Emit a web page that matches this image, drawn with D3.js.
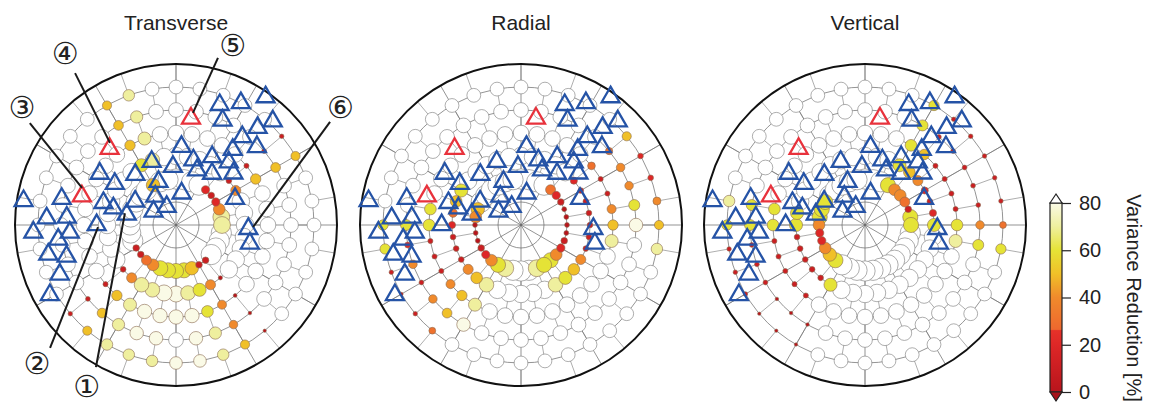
<!DOCTYPE html>
<html>
<head>
<meta charset="utf-8">
<script src="https://cdn.jsdelivr.net/npm/d3@7"></script>
<style>
  body { margin: 0; background: #fff; }
  svg { font-family: "Liberation Sans", Arial, sans-serif; }
</style>
</head>
<body>
<div id="chart"></div>
<script>
// panels
const components = ['Transverse', 'Radial', 'Vertical'];
// grid nodes: azimuth every 10 deg, rings at these distances (outer edge = 7)
const azimuths = d3.range(0, 360, 10);
const ringDist = [2, 3, 4, 5, 6];

// variance reduction per node, one digit per azimuth (0..350), value = digit*10, 9 = above 80
const vrTransverse = [
  '999921 247799 991156 666431 199999 999599',
  '999991 499999 990467 887741 999999 999679',
  '999991 599999 990468 888751 999999 999579',
  '999991 599999 990478 988751 999999 999579',
  '999991 599999 990578 877751 999999 999579'
];
const vrRadial = [
  '999932 100001 246679 997642 100045 999999',
  '999992 111111 456799 999754 111235 699999',
  '999993 114579 999999 999754 111669 999999',
  '999993 446899 999999 999854 142699 999999',
  '999995 224579 999999 999931 016699 999999'
];
const vrVertical = [
  '999644 316699 999999 999965 422466 699999',
  '999654 212699 999999 999611 111669 999999',
  '999651 111679 999999 999911 111669 999999',
  '999611 111469 999999 999000 111669 999999',
  '999611 111369 999999 999000 111679 999999'
];

// stations [azimuth, distance]
const stations = [
  [20,5.56],[28,6.01],[35,6.79],[24,4.98],[43,6.17],[40,5.52],[37,4.79],[46,4.89],
  [4,3.41],[37,4.10],[15,2.92],[28,3.35],[40,3.57],[339,2.95],[357,2.54],[21,2.55],
  [48,3.36],[35,2.73],[321,2.81],[338,2.03],[10,1.40],[304,4.00],[304,3.21],[66,2.81],
  [300,2.05],[324,1.53],[287,3.30],[285,2.82],[282,2.19],[301,1.14],[333,0.89],[270,3.45],
  [93,3.15],[104,3.31],[279,6.71],[283,5.10],[273,5.63],[274,4.76],[267,6.21],[266,4.63],
  [263,5.16],[257,5.70],[254,4.95],[247,5.49],[241,6.27]
];
// highlighted stations [azimuth, distance]
const redStations = [[287,4.28],[319,4.40],[8,4.68]];

// numbered labels: text, label pos, line start, line end (azimuth, distance)
const labels = [
  ['①', [209,8.0], [209.4,7.09], [283,2.28]],
  ['②', [225.2,8.52], [225.7,7.65], [268.5,3.39]],
  ['③', [307.5,8.44], [304.9,7.75], [291.5,4.39]],
  ['④', [327.2,8.9], [326.4,7.93], [321.2,4.58]],
  ['⑤', [17.5,8.2], [14.1,7.49], [8.6,4.93]],
  ['⑥', [54.3,8.8], [56.2,8.06], [91.5,3.35]]
];

const cbTicks = [0, 20, 40, 60, 80];

const vrData = { Transverse: vrTransverse, Radial: vrRadial, Vertical: vrVertical };

const W = 1150, H = 403, cy = 225;

const svg = d3.select('#chart').append('svg')
  .attr('width', W).attr('height', H);

const xPanel = d3.scaleOrdinal().domain(components).range([176, 521, 865]);
const rScale = d3.scaleLinear().domain([0, 7]).range([0, 161]);

// colour for variance reduction
const color = d3.scaleLinear()
  .domain([0, 20, 26, 26.5, 40, 50, 60, 70, 80, 80.5, 100])
  .range(['#b8141c', '#de2727', '#e63229', '#ee682e', '#f08a2c', '#f0c028',
          '#e5e336', '#efef9e', '#fafae6', '#ffffff', '#ffffff'])
  .clamp(true);
// marker size grows with VR and shrinks with distance
const ringBase = d3.scaleLinear().domain([2, 3, 4, 6]).range([11, 9.5, 8.5, 7.5]);
const sizeFrac = d3.scaleLinear().domain([0, 100]).range([0.22, 1]);

function polar(az, d) {
  const a = az * Math.PI / 180, r = rScale(d);
  return [r * Math.sin(a), -r * Math.cos(a)];
}

components.forEach(comp => {
  const g = svg.append('g').attr('transform', `translate(${xPanel(comp)}, ${cy})`);

  // grid rings
  g.selectAll('.ring')
    .data([1].concat(ringDist))
    .enter().append('circle')
    .attr('r', d => rScale(d))
    .attr('fill', 'none')
    .attr('stroke', '#666')
    .attr('stroke-width', 0.7);

  // spokes
  g.selectAll('.spoke')
    .data(d3.range(0, 360, 30))
    .enter().append('line')
    .attr('x1', 0).attr('y1', 0)
    .attr('x2', d => polar(d, 7)[0])
    .attr('y2', d => polar(d, 7)[1])
    .attr('stroke', '#666')
    .attr('stroke-width', 0.7);

  // connectors between rings (honeycomb look)
  const links = [];
  [2, 3, 4, 5, 6].forEach((d, k) => {
    azimuths.forEach((az, i) => {
      if ((i + k) % 2 === 0) links.push([az, d, d + 1]);
    });
  });
  g.selectAll('.link')
    .data(links)
    .enter().append('line')
    .attr('x1', d => polar(d[0], d[1])[0])
    .attr('y1', d => polar(d[0], d[1])[1])
    .attr('x2', d => polar(d[0], d[2])[0])
    .attr('y2', d => polar(d[0], d[2])[1])
    .attr('stroke', '#777')
    .attr('stroke-width', 0.6);

  // nodes
  const nodes = [];
  vrData[comp].forEach((row, k) => {
    const digits = row.replace(/ /g, '');
    azimuths.forEach((az, i) => {
      nodes.push({ az: az, dist: ringDist[k], vr: +digits[i] * 10 });
    });
  });
  nodes.sort((a, b) => d3.descending(a.vr, b.vr));

  g.selectAll('.node')
    .data(nodes)
    .enter().append('circle')
    .attr('class', 'node')
    .attr('cx', d => polar(d.az, d.dist)[0])
    .attr('cy', d => polar(d.az, d.dist)[1])
    .attr('r', d => ringBase(d.dist) * sizeFrac(d.vr))
    .attr('fill', d => color(d.vr))
    .attr('stroke', d => d.vr > 80 ? '#777' : '#8a6a50')
    .attr('stroke-width', 0.6);

  // outer boundary
  g.append('circle')
    .attr('r', rScale(7))
    .attr('fill', 'none')
    .attr('stroke', '#111')
    .attr('stroke-width', 2);

  const tri = d3.symbol().type(d3.symbolTriangle).size(140);

  g.selectAll('.sta')
    .data(stations)
    .enter().append('path')
    .attr('d', tri)
    .attr('transform', d => `translate(${polar(d[0], d[1])})`)
    .attr('fill', 'none')
    .attr('stroke', '#2553a6')
    .attr('stroke-width', 2.3);

  g.selectAll('.red')
    .data(redStations)
    .enter().append('path')
    .attr('d', tri)
    .attr('transform', d => `translate(${polar(d[0], d[1])})`)
    .attr('fill', 'none')
    .attr('stroke', '#e8323c')
    .attr('stroke-width', 2.3);

  g.append('text')
    .attr('x', 0).attr('y', 30 - cy)
    .attr('text-anchor', 'middle')
    .attr('font-size', '21px')
    .attr('fill', '#222')
    .text(comp);

  if (comp === 'Transverse') {
    g.selectAll('.lead')
      .data(labels)
      .enter().append('line')
      .attr('x1', d => polar(d[2][0], d[2][1])[0])
      .attr('y1', d => polar(d[2][0], d[2][1])[1])
      .attr('x2', d => polar(d[3][0], d[3][1])[0])
      .attr('y2', d => polar(d[3][0], d[3][1])[1])
      .attr('stroke', '#1a1a1a')
      .attr('stroke-width', 2);

    g.selectAll('.lab')
      .data(labels)
      .enter().append('text')
      .attr('x', d => polar(d[1][0], d[1][1])[0])
      .attr('y', d => polar(d[1][0], d[1][1])[1])
      .attr('dy', '0.36em')
      .attr('text-anchor', 'middle')
      .attr('font-family', '"DejaVu Sans", sans-serif')
      .attr('font-size', '30px')
      .attr('fill', '#222')
      .text(d => d[0]);
  }
});

// colour bar
const cbX = 1050, cbW = 12;
const cbScale = d3.scaleLinear().domain([0, 80]).range([392, 203]);

const defs = svg.append('defs');
const grad = defs.append('linearGradient')
  .attr('id', 'cbgrad')
  .attr('x1', 0).attr('y1', 1).attr('x2', 0).attr('y2', 0);
d3.range(0, 80.5, 0.5).forEach(v => {
  grad.append('stop')
    .attr('offset', v / 80)
    .attr('stop-color', color(Math.min(v, 79.9)));
});

svg.append('rect')
  .attr('x', cbX).attr('y', cbScale(80))
  .attr('width', cbW).attr('height', cbScale(0) - cbScale(80))
  .attr('fill', 'url(#cbgrad)')
  .attr('stroke', '#222')
  .attr('stroke-width', 1.2);

svg.append('path')
  .attr('d', `M${cbX},${cbScale(80)}L${cbX + cbW / 2},${cbScale(80) - 9}L${cbX + cbW},${cbScale(80)}Z`)
  .attr('fill', '#fff').attr('stroke', '#222').attr('stroke-width', 1.2);
svg.append('path')
  .attr('d', `M${cbX},${cbScale(0)}L${cbX + cbW / 2},${cbScale(0) + 9}L${cbX + cbW},${cbScale(0)}Z`)
  .attr('fill', '#a8121a').attr('stroke', '#222').attr('stroke-width', 1.2);

const cbAxis = svg.append('g')
  .attr('transform', `translate(${cbX + cbW}, 0)`)
  .call(d3.axisRight(cbScale).tickValues(cbTicks).tickSize(9).tickPadding(8));
cbAxis.select('.domain').remove();
cbAxis.selectAll('line').attr('stroke', '#222').attr('stroke-width', 1.2);
cbAxis.selectAll('text')
  .attr('font-size', '20px')
  .attr('fill', '#222')
  .attr('font-family', '"Liberation Sans", Arial, sans-serif');

svg.append('text')
  .attr('transform', 'translate(1127, 298) rotate(90)')
  .attr('text-anchor', 'middle')
  .attr('font-size', '20px')
  .attr('fill', '#222')
  .text('Variance Reduction [%]');
</script>
</body>
</html>
